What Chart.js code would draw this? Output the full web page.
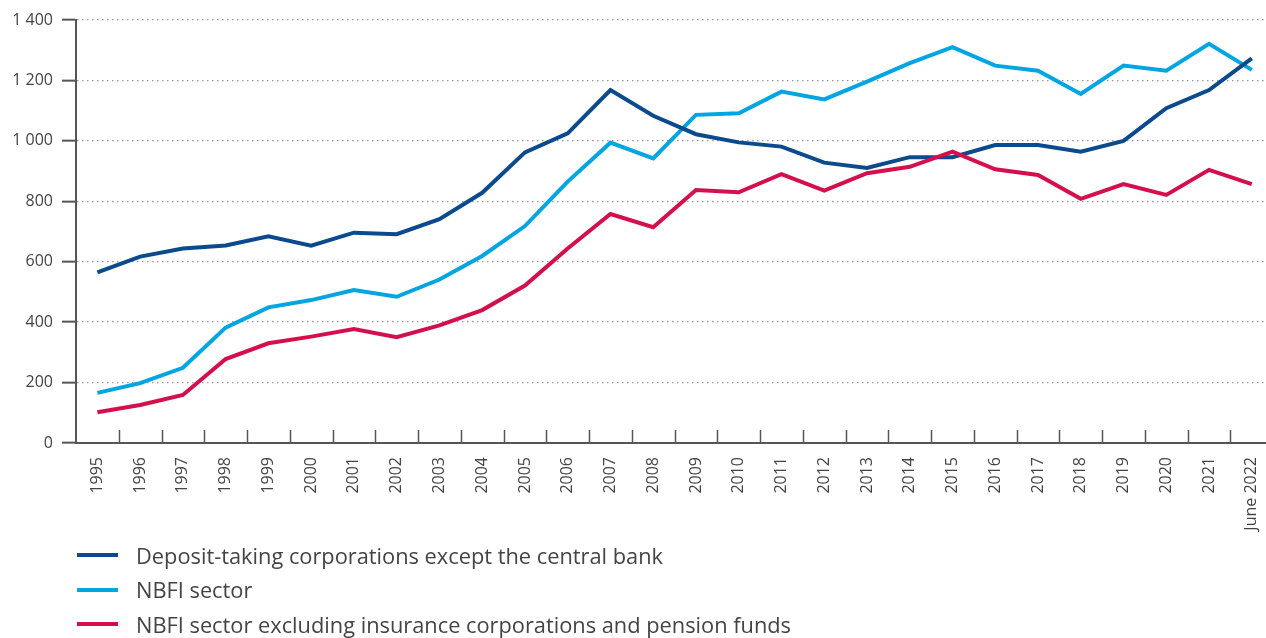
<!DOCTYPE html>
<html>
<head>
<meta charset="utf-8">
<script src="https://cdn.jsdelivr.net/npm/chart.js@4.4.0/dist/chart.umd.min.js"></script>
<style>
  body { margin: 0; background: #fff; overflow: hidden; font-family: "Open Sans", sans-serif; }
  #wrap { position: relative; width: 1285px; height: 545px; }
  #legend { position: absolute; left: 77px; top: 538px; }
  .row { display: flex; align-items: center; height: 34.5px; font-size: 21.8px; color: #444; white-space: nowrap; }
  .row span.ln { display: inline-block; width: 41px; height: 4px; margin-right: 18px; }
</style>
</head>
<body>
<div id="wrap"><canvas id="myChart" width="1285" height="545"></canvas></div>
<div id="legend"></div>
<script>
var years = ['1995','1996','1997','1998','1999','2000','2001','2002','2003','2004','2005','2006','2007','2008','2009','2010','2011','2012','2013','2014','2015','2016','2017','2018','2019','2020','2021','June 2022'];

var depositTaking = [565, 617, 644, 654, 684, 653, 696, 691, 741, 828, 962, 1025, 1168, 1083, 1022, 995, 981, 928, 910, 946, 946, 986, 986, 964, 1000, 1108, 1168, 1273];
var nbfi = [166, 198, 249, 382, 449, 473, 506, 484, 541, 619, 718, 865, 994, 942, 1086, 1091, 1163, 1137, 1196, 1257, 1310, 1249, 1232, 1155, 1249, 1232, 1321, 1235];
var nbfiExcl = [102, 126, 159, 278, 330, 352, 377, 350, 389, 440, 521, 644, 758, 714, 837, 830, 890, 835, 893, 914, 964, 906, 887, 808, 857, 821, 904, 857];

var seriesNames = ['Deposit-taking corporations except the central bank', 'NBFI sector', 'NBFI sector excluding insurance corporations and pension funds'];
var colours = ['#0b4a8c', '#00a5e1', '#d4104c'];

// little upward ticks on the x axis, between categories
var xTicks = {
  id: 'xTicks',
  beforeDatasetsDraw: function(chart) {
    var x = chart.scales.x;
    var ctx = chart.ctx;
    ctx.save();
    ctx.strokeStyle = '#555';
    ctx.lineWidth = 1.5;
    for (var i = 1; i <= years.length; i++) {
      var px = Math.round(x.getPixelForValue(i - 0.5)) + 0.5;
      ctx.beginPath();
      ctx.moveTo(px, x.top);
      ctx.lineTo(px, x.top - 13);
      ctx.stroke();
    }
    ctx.restore();
  }
};

var ctx = document.getElementById('myChart');
var myChart = new Chart(ctx, {
  type: 'line',
  data: {
    labels: years,
    datasets: [
      { label: seriesNames[0], data: depositTaking, borderColor: colours[0], order: 1 },
      { label: seriesNames[1], data: nbfi, borderColor: colours[1], order: 2 },
      { label: seriesNames[2], data: nbfiExcl, borderColor: colours[2], order: 0 }
    ]
  },
  options: {
    responsive: false,
    animation: false,
    layout: { padding: { top: 20, right: 0, left: 0, bottom: 0 } },
    elements: {
      line: { borderWidth: 4, tension: 0, borderJoinStyle: 'miter', borderCapStyle: 'butt' },
      point: { radius: 0, hoverRadius: 0 }
    },
    plugins: { legend: { display: false }, tooltip: { enabled: false } },
    scales: {
      x: {
        offset: true,
        grid: { display: false, drawTicks: false, offset: true },
        border: { display: true, color: '#555', width: 2 },
        ticks: {
          autoSkip: false, minRotation: 90, maxRotation: 90, padding: 14,
          color: '#444', font: { family: 'Open Sans', size: 16 }
        },
        afterFit: function(scale) { scale.height = 102; }
      },
      y: {
        min: 0, max: 1400,
        grid: { color: '#9a9a9a', lineWidth: 1.3, tickLength: 14, tickColor: '#555', tickWidth: 2, tickBorderDash: [] },
        border: { display: true, color: '#555', width: 2, dash: [1.5, 3.5] },
        ticks: {
          stepSize: 200, padding: 9, color: '#444',
          font: { family: 'Open Sans', size: 16 },
          callback: function(v) { return String(v).replace(/\B(?=(\d{3})+(?!\d))/g, ' '); }
        },
        afterFit: function(scale) { scale.width = 76; }
      }
    }
  },
  plugins: [xTicks]
});

var legend = document.getElementById('legend');
for (var i = 0; i < seriesNames.length; i++) {
  var row = document.createElement('div');
  row.className = 'row';
  row.innerHTML = '<span class="ln" style="background:' + colours[i] + '"></span>' + seriesNames[i];
  legend.appendChild(row);
}
</script>
</body>
</html>
